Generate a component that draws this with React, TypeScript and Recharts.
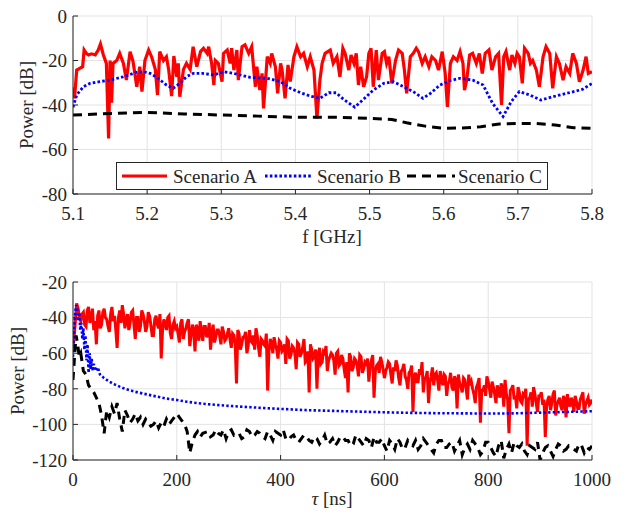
import React from "react";
import { LineChart, Line, XAxis, YAxis, CartesianGrid } from "recharts";

// ---- axis ticks ----
const fTicks = [5.1, 5.2, 5.3, 5.4, 5.5, 5.6, 5.7, 5.8];
const powTicksTop = [-80, -60, -40, -20, 0];
const tauTicks = [0, 200, 400, 600, 800, 1000];
const powTicksBottom = [-120, -100, -80, -60, -40, -20];

// ---- top panel: frequency response (f in GHz, power in dB) ----
const freqA = [
    5.100, 5.102, 5.105, 5.109, 5.113, 5.115, 5.118, 5.121, 5.125, 5.130, 5.134, 5.137, 5.141, 5.145, 5.148,
    5.150, 5.152, 5.154, 5.159, 5.163, 5.168, 5.172, 5.177, 5.181, 5.186, 5.190, 5.193, 5.197, 5.202, 5.206,
    5.211, 5.214, 5.217, 5.222, 5.226, 5.229, 5.233, 5.236, 5.240, 5.242, 5.244, 5.249, 5.253, 5.258, 5.262,
    5.267, 5.272, 5.276, 5.281, 5.283, 5.287, 5.290, 5.292, 5.296, 5.301, 5.303, 5.308, 5.312, 5.314, 5.317,
    5.321, 5.323, 5.328, 5.332, 5.337, 5.341, 5.346, 5.348, 5.352, 5.355, 5.357, 5.362, 5.366, 5.368, 5.373,
    5.376, 5.380, 5.382, 5.386, 5.390, 5.393, 5.398, 5.402, 5.407, 5.411, 5.416, 5.420, 5.425, 5.429, 5.433,
    5.436, 5.440, 5.447, 5.451, 5.456, 5.460, 5.464, 5.467, 5.472, 5.475, 5.479, 5.482, 5.485, 5.488, 5.492,
    5.496, 5.499, 5.502, 5.505, 5.509, 5.512, 5.517, 5.520, 5.523, 5.526, 5.530, 5.535, 5.539, 5.544, 5.547,
    5.550, 5.555, 5.559, 5.563, 5.566, 5.571, 5.575, 5.580, 5.584, 5.589, 5.593, 5.598, 5.602, 5.605, 5.609,
    5.613, 5.618, 5.622, 5.626, 5.628, 5.631, 5.635, 5.639, 5.644, 5.648, 5.652, 5.656, 5.661, 5.665, 5.670,
    5.674, 5.678, 5.681, 5.684, 5.689, 5.692, 5.696, 5.699, 5.702, 5.706, 5.709, 5.714, 5.717, 5.720, 5.725,
    5.729, 5.734, 5.738, 5.743, 5.747, 5.752, 5.756, 5.761, 5.765, 5.770, 5.774, 5.779, 5.783, 5.788, 5.792,
    5.795, 5.800,
];
const powerA = [
    -32, -37, -24.3, -23.5, -22.8, -15.3, -16.8, -17.5, -17, -17.5, -15.3, -12.6, -17.5, -21.3, -55,
    -20, -39, -21.3, -20, -16.8, -21.3, -28.8, -16, -20.5, -31.8, -22.8, -34, -20, -15.3, -18.3,
    -24, -35.5, -16, -20, -18.3, -24, -36, -18, -27.3, -21.3, -36.3, -24, -21.3, -24, -13.8,
    -22.8, -16, -14.5, -16.8, -13.8, -21.3, -31, -20, -21.3, -29.5, -16.8, -15.3, -21.3, -14.5, -24.3,
    -15.3, -28.8, -13.8, -13, -16.8, -13.8, -31.8, -22.8, -33.3, -25.8, -41.5, -18.3, -21.3, -16.8, -22.8,
    -34.8, -21.3, -24.3, -37, -22, -29.5, -18.3, -13.8, -18.3, -16.8, -22.8, -18.3, -24.3, -46, -28.8,
    -21.3, -16.8, -15.3, -21.3, -18.3, -27.3, -14.5, -16.8, -24.3, -17.5, -21.3, -16.8, -31, -22.8, -31.8,
    -27.3, -16.8, -14.5, -31.8, -15.3, -28.8, -16.8, -16, -21.3, -18.3, -30.3, -20, -15.3, -16.8, -24.3,
    -34.8, -18.3, -16.8, -14.5, -16, -21.3, -18.3, -22.8, -18.3, -20, -24.3, -16, -25.8, -40.8, -21.3,
    -18.3, -20, -16, -21.3, -33.3, -28.8, -17.5, -16.8, -21.3, -16.8, -25.8, -16.8, -15.3, -24.3, -18.3,
    -16.8, -40, -18.3, -16, -24.3, -17.5, -21.3, -16.8, -18.3, -30.3, -14.5, -16.8, -21.3, -20, -24.3,
    -31.8, -18.3, -13.8, -16.8, -32.5, -18.3, -21.3, -28.8, -22.8, -25.8, -16.8, -21.3, -29.5, -24.3, -18.3,
    -25.8, -25,
];

const freqB = [
    5.100, 5.105, 5.114, 5.123, 5.136, 5.150, 5.168, 5.186, 5.195, 5.204, 5.213, 5.226, 5.235, 5.244, 5.253,
    5.262, 5.275, 5.290, 5.303, 5.317, 5.339, 5.362, 5.380, 5.393, 5.407, 5.420, 5.433, 5.445, 5.455, 5.465,
    5.480, 5.490, 5.505, 5.519, 5.532, 5.546, 5.559, 5.572, 5.582, 5.595, 5.609, 5.622, 5.639, 5.653, 5.666,
    5.680, 5.691, 5.702, 5.716, 5.731, 5.747, 5.769, 5.787, 5.800,
];
const powerB = [
    -41, -35.5, -31.8, -30.3, -29.5, -28.8, -27.3, -25.3, -25, -25.8, -27.6, -31, -32.5, -30.3, -27.3,
    -25.8, -25.8, -26.5, -25, -25.8, -27.6, -28, -29.5, -32.5, -34.5, -36, -37, -34.5, -34.5, -37.5,
    -41, -38, -33.3, -30.3, -29.5, -31.8, -34, -37, -34.8, -31, -29, -28, -28.8, -31, -39.3,
    -45.2, -38.5, -34, -35.5, -37.8, -36.3, -34.5, -33, -30.3,
];

const freqC = [
    5.100, 5.150, 5.200, 5.250, 5.300, 5.350, 5.400, 5.450, 5.500, 5.530, 5.550, 5.575, 5.600, 5.625, 5.650,
    5.675, 5.700, 5.725, 5.750, 5.775, 5.800,
];
const powerC = [
    -44.5, -43.8, -43.3, -44, -44.5, -45, -45.5, -45.5, -46, -46.5, -48, -49.5, -50.5, -50.3, -49.8,
    -48.5, -48.3, -48.3, -49, -50.2, -50.5,
];

// ---- bottom panel: power delay profile (tau in ns, power in dB) ----
const tauAStart = [0, 3, 7];
const powerAStart = [-58, -48, -32];
// readings at 10, 15, 20 ... 1000 ns
const powerAOn5 = [
    -35, -42, -37, -45, -34, -40, -47, -55, -36, -44, -35, -41, -48, -34, -39, -57, -36, -33,
    -46, -38, -43, -36, -52, -40, -45, -38, -48, -37, -44, -50, -39, -46, -63, -41, -47, -39, -52, -42,
    -45, -54, -41, -48, -43, -56, -44, -59, -47, -42, -53, -45, -49, -58, -44, -51, -47, -55, -48, -52,
    -46, -57, -50, -77, -49, -55, -51, -60, -47, -54, -58, -50, -62, -53, -56, -81, -52, -60, -55, -63,
    -54, -58, -66, -53, -61, -57, -69, -55, -60, -52, -64, -82, -58, -62, -80, -57, -65, -60, -70, -62,
    -61, -72, -59, -66, -63, -74, -82, -62, -68, -64, -73, -62, -69, -66, -76, -64, -85, -67, -71, -65,
    -74, -68, -66, -77, -70, -67, -78, -69, -73, -80, -70, -93, -71, -76, -72, -82, -74, -88, -73, -78,
    -71, -81, -75, -72, -84, -76, -79, -73, -91, -77, -82, -75, -86, -78, -80, -88, -77, -99, -81, -84,
    -76, -85, -79, -88, -81, -77, -90, -83, -105, -80, -86, -91, -82, -88, -84, -112, -85, -90, -83, -93,
    -84, -89, -107, -86, -92, -83, -95, -87, -90, -84, -96, -88, -85, -93, -87, -91, -84, -94, -87, -89, -86,
];
// readings at 12.5, 17.5 ... 997.5 ns
const powerAMid = [
    -40, -38, -44, -36, -43, -35, -42, -39, -46, -37, -40, -45, -38, -42, -47, -40, -43, -38,
    -41, -47, -37, -44, -40, -48, -36, -42, -45, -39, -50, -41, -44, -38, -47, -43, -40, -49, -44, -46,
    -49, -43, -52, -46, -41, -50, -47, -44, -53, -48, -45, -51, -43, -49, -54, -47, -50, -45, -53, -49,
    -52, -49, -55, -47, -58, -51, -48, -56, -53, -50, -46, -57, -52, -55, -49, -59, -54, -51, -58, -53,
    -59, -55, -52, -63, -56, -60, -54, -62, -57, -65, -59, -55, -63, -58, -61, -66, -59, -56, -64, -60,
    -64, -60, -67, -61, -69, -65, -60, -70, -63, -67, -61, -71, -65, -63, -68, -61, -70, -66, -62, -69,
    -70, -65, -72, -68, -64, -74, -70, -66, -75, -71, -67, -73, -76, -69, -65, -74, -70, -77, -68, -72,
    -75, -70, -78, -73, -77, -71, -81, -75, -72, -79, -74, -80, -72, -76, -83, -79, -74, -81, -78, -73,
    -80, -76, -83, -78, -85, -79, -75, -86, -81, -78, -84, -79, -87, -83, -80, -86, -82, -79, -88, -84,
    -82, -86, -90, -84, -88, -81, -89, -85, -92, -86, -83, -90, -87, -84, -91, -86, -82, -89, -85, -88,
];

const tauB = [
    0, 2, 4, 6, 8, 10, 12, 14, 16, 18, 20, 22, 24, 26, 28, 30, 32, 34, 36, 38, 40, 44, 48, 52, 56, 60,
    70, 80, 90, 100, 120, 140, 160, 180, 200, 220, 250, 300, 350, 400, 450, 500, 550, 600, 650, 700,
    750, 800, 850, 900, 950, 1000,
];
const powerB2 = [
    -62, -48, -38, -33, -35, -42, -37, -47, -43, -52, -46, -58, -50, -64, -55, -71, -60, -69, -63, -70, -66, -70, -68, -72, -73, -74,
    -76, -77.5, -78.8, -80, -81.7, -83, -84.3, -85.5, -86.3, -87.3, -88.4, -89.6, -90.5, -91.3, -92, -92.4, -92.8, -93.2, -93.5, -93.7,
    -93.8, -93.9, -93.8, -93.4, -93, -92.6,
];

const tauCHead = [
    0, 3, 6, 9, 12, 15, 20, 25, 30, 35, 40, 45, 50, 55, 60, 65, 70, 75, 80, 85, 90, 95, 100, 105, 110, 115,
    120, 125, 130, 135, 140, 145, 150, 155, 160, 165, 170, 175, 180, 185, 190, 195, 200, 205, 210, 215, 220,
    225, 230, 235, 240, 245, 250,
];
const powerCHead = [
    -75, -62, -50, -55, -62, -60, -70, -72, -78, -80, -82, -85, -88, -95, -105, -92, -96, -90, -94, -88, -97, -104, -92, -95, -99, -97,
    -94, -98, -96, -100, -97, -99, -101, -100, -98, -102, -99, -101, -97, -100, -98, -96, -94, -96, -98, -100, -104,
    -116, -110, -106, -104, -107, -105,
];
// readings at 260, 270 ... 1000 ns
const powerCOn10 = [
    -104, -106, -105, -103, -104, -106, -105, -107, -104, -106,
    -105, -108, -106, -104, -106, -108, -107, -109, -108, -107,
    -110, -108, -109, -111, -108, -110, -107, -109, -111, -108,
    -112, -109, -107, -110, -112, -109, -114, -110, -113, -111,
    -109, -112, -110, -114, -111, -109, -113, -110, -112, -117,
    -111, -109, -113, -115, -110, -116, -112, -119, -111, -110,
    -113, -115, -112, -114, -120, -113, -115, -114, -112, -114,
    -113, -115, -112, -113, -112,
];
// readings at 265, 275 ... 995 ns
const powerCMid = [
    -107, -103, -106, -108, -103, -105, -108, -103, -107, -104,
    -107, -104, -109, -105, -103, -109, -106, -110, -106, -109,
    -107, -111, -106, -110, -112, -107, -109, -112, -106, -110,
    -108, -113, -110, -108, -115, -111, -108, -114, -109, -112,
    -114, -108, -112, -116, -109, -113, -111, -115, -109, -113,
    -114, -111, -117, -110, -113, -118, -109, -114, -116, -112,
    -111, -117, -113, -110, -116, -112, -118, -111, -115, -112,
    -114, -111, -116, -114,
];

const FONT = '"Liberation Serif", "Times New Roman", serif';
const INK = "#262626";
const GRID = "#e3e3e3";
const RED = "#ff0000";
const BLUE = "#0000ff";

type Pt = { x: number; y: number };
const zip = (xs: number[], ys: number[]): Pt[] => xs.map((x, i) => ({ x, y: ys[i] }));

// merge readings taken on two interleaved delay grids
const interleave = (start: number, step: number, on: number[], mid: number[]): Pt[] => {
    const out: Pt[] = [];
    on.forEach((y, i) => {
        out.push({ x: start + step * i, y });
        if (i < mid.length) out.push({ x: start + step * i + step / 2, y: mid[i] });
    });
    return out;
};

const dataTopA = zip(freqA, powerA);
const dataTopB = zip(freqB, powerB);
const dataTopC = zip(freqC, powerC);
const dataBotA = [...zip(tauAStart, powerAStart), ...interleave(10, 5, powerAOn5, powerAMid)];
const dataBotB = zip(tauB, powerB2);
const dataBotC = [...zip(tauCHead, powerCHead), ...interleave(260, 10, powerCOn10, powerCMid)];

const tickStyle = { fill: INK, fontSize: 19, fontFamily: FONT };

export default function App() {
    return (
        <div
            style={{
                position: "absolute",
                left: 0,
                top: 0,
                width: 624,
                height: 514,
                background: "#fff",
                fontFamily: FONT,
            }}
        >
            {/* top: power vs frequency */}
            <LineChart width={624} height={257} margin={{ top: 16, right: 32, bottom: 23, left: 0 }}>
                <CartesianGrid stroke={GRID} />
                <XAxis
                    dataKey="x"
                    type="number"
                    domain={[5.1, 5.8]}
                    ticks={fTicks}
                    interval={0}
                    allowDataOverflow
                    tickFormatter={(v: number) => v.toFixed(1)}
                    height={40}
                    tickSize={-5}
                    tickMargin={17.5}
                    tick={tickStyle}
                    stroke={INK}
                />
                <XAxis xAxisId="top" orientation="top" type="number" domain={[5.1, 5.8]} ticks={fTicks}
                    interval={0} height={0} tick={false} tickSize={-5} stroke={INK} />
                <YAxis
                    type="number"
                    domain={[-80, 0]}
                    ticks={powTicksTop}
                    interval={0}
                    allowDataOverflow
                    width={73}
                    tickSize={-5}
                    tickMargin={11}
                    tick={tickStyle}
                    stroke={INK}
                />
                <YAxis yAxisId="right" orientation="right" type="number" domain={[-80, 0]} ticks={powTicksTop}
                    interval={0} width={0} tick={false} tickSize={-5} stroke={INK} />
                <Line data={dataTopA} dataKey="y" type="linear" stroke={RED} strokeWidth={3.2} dot={false}
                    isAnimationActive={false} />
                <Line data={dataTopB} dataKey="y" type="linear" stroke={BLUE} strokeWidth={2.8} strokeDasharray="2.6 2.2"
                    dot={false} isAnimationActive={false} />
                <Line data={dataTopC} dataKey="y" type="linear" stroke="#000" strokeWidth={3} strokeDasharray="9 6"
                    dot={false} isAnimationActive={false} />
            </LineChart>

            {/* bottom: power delay profile */}
            <LineChart width={624} height={257} margin={{ top: 25, right: 32, bottom: 14, left: 0 }}>
                <CartesianGrid stroke={GRID} />
                <XAxis
                    dataKey="x"
                    type="number"
                    domain={[0, 1000]}
                    ticks={tauTicks}
                    interval={0}
                    allowDataOverflow
                    height={40}
                    tickSize={-5}
                    tickMargin={17.5}
                    tick={tickStyle}
                    stroke={INK}
                />
                <XAxis xAxisId="top" orientation="top" type="number" domain={[0, 1000]} ticks={tauTicks}
                    interval={0} height={0} tick={false} tickSize={-5} stroke={INK} />
                <YAxis
                    type="number"
                    domain={[-120, -20]}
                    ticks={powTicksBottom}
                    interval={0}
                    allowDataOverflow
                    width={73}
                    tickSize={-5}
                    tickMargin={11}
                    tick={tickStyle}
                    stroke={INK}
                />
                <YAxis yAxisId="right" orientation="right" type="number" domain={[-120, -20]} ticks={powTicksBottom}
                    interval={0} width={0} tick={false} tickSize={-5} stroke={INK} />
                <Line data={dataBotA} dataKey="y" type="linear" stroke={RED} strokeWidth={3} dot={false}
                    isAnimationActive={false} />
                <Line data={dataBotB} dataKey="y" type="linear" stroke={BLUE} strokeWidth={2.6} strokeDasharray="2.4 2.2"
                    dot={false} isAnimationActive={false} />
                <Line data={dataBotC} dataKey="y" type="linear" stroke="#000" strokeWidth={3} strokeDasharray="8 6"
                    dot={false} isAnimationActive={false} />
            </LineChart>

            {/* axis titles and legend */}
            <svg width={624} height={514} style={{ position: "absolute", left: 0, top: 0, pointerEvents: "none" }}>
                <g fontFamily={FONT} fontSize={19} fill={INK}>
                    <text transform="translate(26,105) rotate(-90)" textAnchor="middle" dy="0.35em">Power [dB]</text>
                    <text transform="translate(17,371) rotate(-90)" textAnchor="middle" dy="0.35em">Power [dB]</text>
                    <text x={332} y={243} textAnchor="middle">f [GHz]</text>
                    <text x={332} y={505} textAnchor="middle">
                        <tspan fontStyle="italic">τ</tspan> [ns]
                    </text>
                </g>
                <g>
                    <rect x={116.5} y={162.5} width={431} height={27} fill="#fff" stroke={INK} strokeWidth={1} />
                    <line x1={122} y1={176} x2={167} y2={176} stroke={RED} strokeWidth={3.2} />
                    <line x1={265} y1={176} x2={313} y2={176} stroke={BLUE} strokeWidth={2.8} strokeDasharray="2.6 2.2" />
                    <line x1={407} y1={176} x2={455} y2={176} stroke="#000" strokeWidth={3} strokeDasharray="9 6" />
                    <g fontFamily={FONT} fontSize={19} fill={INK}>
                        <text x={173} y={183}>Scenario A</text>
                        <text x={317} y={183}>Scenario B</text>
                        <text x={458} y={183}>Scenario C</text>
                    </g>
                </g>
            </svg>
        </div>
    );
}
